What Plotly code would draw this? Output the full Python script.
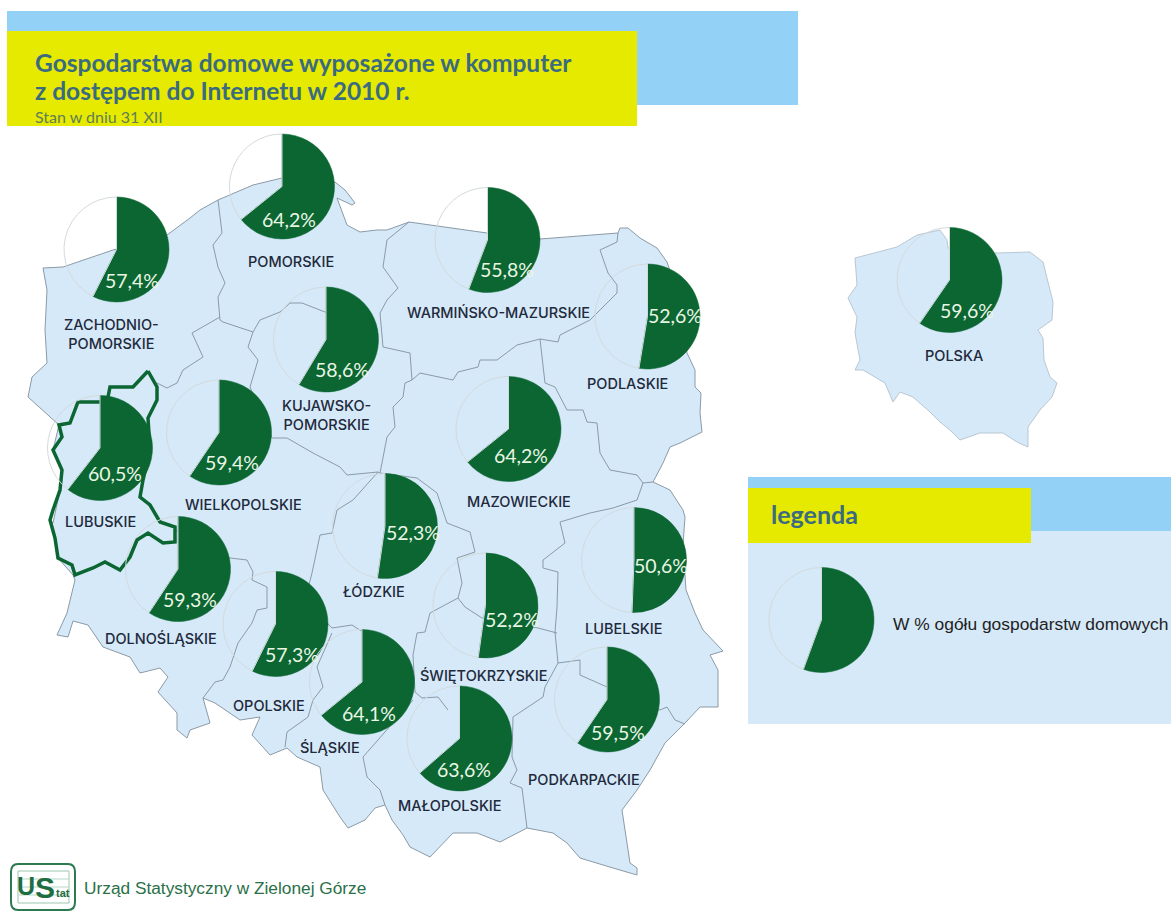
import plotly.graph_objects as go

W, H = 1171, 913

# ---------- data ----------
REGIONS = ["ZACHODNIO-<br>POMORSKIE", "POMORSKIE", "WARMIŃSKO-MAZURSKIE", "PODLASKIE",
           "KUJAWSKO-<br>POMORSKIE", "LUBUSKIE", "WIELKOPOLSKIE", "MAZOWIECKIE",
           "ŁÓDZKIE", "LUBELSKIE", "ŚWIĘTOKRZYSKIE", "DOLNOŚLĄSKIE",
           "OPOLSKIE", "ŚLĄSKIE", "MAŁOPOLSKIE", "PODKARPACKIE", "POLSKA"]
VALUES = [57.4, 64.2, 55.8, 52.6, 58.6, 60.5, 59.4, 64.2, 52.3, 50.6, 52.2, 59.3, 57.3, 64.1, 63.6, 59.5, 59.6]
LEGEND_VALUE = 55.6

# ---------- placement (pixels of the picture, used through hidden axes) ----------
PIE_XY = [(116.5, 249.5), (282, 186.5), (487.5, 240), (647.5, 316.5), (326, 339.5), (100, 448), (219, 432.5),
          (508.5, 429), (385, 526), (634, 560), (485.5, 605.5), (178, 569), (275.5, 624), (362, 682),
          (459.5, 738.5), (607, 699.5), (949.5, 280)]
PIE_R = 52.5
PCT_XY = [(132, 280), (289, 219), (507, 269), (675, 315), (342, 369), (115, 473), (232, 462), (521, 455),
          (413, 532), (661, 565), (512, 619), (190, 599), (292, 654), (369, 713), (464, 769), (618, 732), (967, 310)]
NAME_XY = [(111, 334), (291, 261), (498, 312), (627, 383), (326, 415), (100, 521), (243, 504), (519, 501),
           (374, 591), (623, 628), (484, 675), (161, 638), (269, 705), (330, 747), (450, 805), (584, 779), (954, 355)]

POLAND = [(43,268),(63,267),(113,250),(167,235),(190,218),(200,210),(218,200),(230,195),(253,185),(282,178),(335,182),
          (345,190),(355,203),(352,205),(337,198),(347,225),(360,232),(377,230),(387,230),(409,222),(487,233),(540,239),
          (618,233),(620,228),(628,228),(640,238),(657,248),(667,262),(680,300),(687,353),(695,370),(695,387),(701,393),
          (700,413),(702,432),(680,443),(670,447),(663,463),(653,482),(670,490),(683,510),(685,517),(683,545),(686,590),
          (695,613),(703,630),(715,643),(723,651),(710,655),(718,670),(718,707),(700,707),(685,723),(665,743),(650,770),
          (637,790),(622,810),(630,863),(637,868),(637,875),(613,868),(580,858),(567,843),(553,833),(527,828),(500,842),
          (477,833),(453,833),(430,857),(410,847),(403,835),(392,820),(385,805),(375,808),(365,820),(348,828),(340,817),
          (323,790),(320,767),(297,757),(287,748),(270,755),(252,735),(260,717),(240,720),(215,703),(203,698),(210,723),
          (190,730),(187,738),(177,730),(177,713),(158,692),(168,677),(160,668),(140,673),(130,657),(103,647),(88,625),
          (73,621),(68,637),(57,635),(67,613),(75,580),(73,575),(58,558),(55,538),(50,520),(53,523),(60,490),
          (62,470),(53,450),(59,425),(28,397),(32,377),(47,363),(45,330),(47,290),(43,268)]

LUBUSKIE = [(148,371),(157,387),(157,400),(148,418),(150,450),(143,480),(140,497),(150,505),(160,522),(175,527),(175,542),
            (163,543),(148,533),(137,540),(130,557),(120,570),(105,562),(93,568),(75,575),(72,565),(58,558),(55,538),
            (50,520),(53,510),(60,490),(62,470),(53,450),(62,437),(59,425),(70,423),(78,402),(100,402),(108,397),(110,387),
            (133,387),(143,377),(148,371)]

BORDERS = [
    [(218,200),(222,233),(213,245),(218,267),(225,283),(218,297),(220,320),(223,322),(253,332),(260,320),(280,312),(290,303),(302,303),(325,312),(378,330)],
    [(409,222),(387,240),(383,267),(398,288),(387,300),(380,313),(383,347),(410,353),(412,380),(405,383),(403,397),(393,407),(395,427),(387,437),(380,473)],
    [(253,332),(248,347),(258,360),(250,387),(272,438),(287,438),(313,453),(340,467),(347,475),(378,472),(380,473)],
    [(220,317),(192,333),(203,357),(183,370),(177,383),(167,388),(157,383)],
    [(175,530),(230,558),(247,560),(253,572),(252,580),(267,587),(267,608),(257,610),(252,623),(238,643),(230,667),(223,680),(215,682),(203,698)],
    [(378,472),(353,500),(337,510),(332,533),(320,535),(317,550),(312,573),(305,600),(332,628),(352,625),(363,632)],
    [(380,473),(417,478),(437,493),(447,523),(470,532),(475,552),(457,558),(462,583),(458,598),(430,613),(425,632),(417,633),(413,655),(415,692),(422,698),(438,697),(448,710)],
    [(458,598),(465,607),(482,618),(538,628),(557,633)],
    [(412,380),(420,373),(453,380),(458,372),(478,367),(480,360),(497,360),(517,345),(540,339),(558,342),(560,335),(590,320),(617,293),(617,285),(608,273),(603,258),(600,250),(617,242),(618,233)],
    [(540,339),(545,383),(555,387),(567,410),(583,410),(587,422),(597,423),(600,453),(610,470),(637,475),(643,483),(653,482)],
    [(643,483),(637,500),(613,508),(590,513),(560,522),(565,543),(543,560),(543,568),(558,572),(557,607),(555,632),(558,663),(580,660),(580,675),(607,687),(660,710),(667,707),(675,720),(685,724)],
    [(558,663),(545,687),(543,697),(513,717),(512,757),(517,770),(510,783),(522,788),(527,828)],
    [(332,633),(320,660),(317,667),(323,687),(313,700),(308,717),(287,732),(285,747)],
    [(413,700),(363,757),(367,777),(380,790),(385,805)],
]

POLSKA_MAP = [(855,258),(897,247),(917,235),(940,230),(947,240),(948,248),(997,253),(1030,252),(1043,262),(1048,283),
              (1053,302),(1052,320),(1038,330),(1043,338),(1044,360),(1050,377),(1057,383),(1052,397),(1040,410),(1028,427),
              (1028,447),(1017,442),(1003,433),(980,433),(960,440),(950,430),(940,422),(930,412),(913,397),(900,392),
              (893,402),(885,383),(863,370),(855,370),(860,360),(855,333),(857,317),(848,298),(857,285),(855,258)]

TITLE_LINES = ["Gospodarstwa domowe wyposażone w komputer", "z dostępem do Internetu w 2010 r."]
SUBTITLE = "Stan w dniu 31 XII"
LEGEND_TITLE = "legenda"
LEGEND_TEXT = "W % ogółu gospodarstw domowych"
FOOTER = "Urząd Statystyczny w Zielonej Górze"

GREEN = "#0b6632"
BLUE = "#94d1f6"
PALE = "#d6e9f8"
YELLOW = "#e6e900"
EDGE = "#8b9aa6"
RING = "#d3dadd"
NAVY = "#1f2a3c"
TEAL = "#3a6b80"

fig = go.Figure()


def unzip(points):
    return [p[0] for p in points], [p[1] for p in points]


def add_outline(points, fill, line, width):
    x, y = unzip(points)
    fig.add_trace(go.Scatter(x=x, y=y, mode="lines", fill="toself" if fill else None, fillcolor=fill,
                             line=dict(color=line, width=width), hoverinfo="skip", showlegend=False))


add_outline(POLAND, PALE, EDGE, 1)
bx, by = [], []
for seg in BORDERS:
    sx, sy = unzip(seg)
    bx += sx + [None]
    by += sy + [None]
fig.add_trace(go.Scatter(x=bx, y=by, mode="lines", line=dict(color=EDGE, width=1), hoverinfo="skip", showlegend=False))
add_outline(LUBUSKIE, None, GREEN, 3.5)
add_outline(POLSKA_MAP, PALE, "#b9c7d2", 1)


def add_pie(value, cx, cy, r):
    fig.add_trace(go.Pie(
        values=[value, 100 - value], sort=False, direction="clockwise", rotation=0, textinfo="none",
        hoverinfo="skip", showlegend=False,
        marker=dict(colors=[GREEN, "rgba(0,0,0,0)"], line=dict(color=[GREEN, RING], width=[0.5, 1])),
        domain=dict(x=[(cx - r) / W, (cx + r) / W], y=[1 - (cy + r) / H, 1 - (cy - r) / H])))


for v, (cx, cy) in zip(VALUES, PIE_XY):
    add_pie(v, cx, cy, PIE_R)
add_pie(LEGEND_VALUE, 821.5, 620, PIE_R)

LOGO_GREEN = "#2d7a50"
shapes = [
    dict(type="rect", x0=7, x1=798, y0=11, y1=105, fillcolor=BLUE, line_width=0, layer="below"),
    dict(type="rect", x0=7, x1=637, y0=31, y1=126, fillcolor=YELLOW, line_width=0, layer="below"),
    dict(type="rect", x0=748, x1=1171, y0=477, y1=531, fillcolor=BLUE, line_width=0, layer="below"),
    dict(type="rect", x0=748, x1=1171, y0=531, y1=724, fillcolor=PALE, line_width=0, layer="below"),
    dict(type="rect", x0=748, x1=1031, y0=488, y1=543, fillcolor=YELLOW, line_width=0, layer="below"),
    dict(type="path", path="M18,864 L68,864 Q75,864 75,872 L75,902 Q75,910 68,910 L18,910 Q11,910 11,902 L11,872 Q11,864 18,864 Z",
         fillcolor="white", line=dict(color=LOGO_GREEN, width=2), layer="below"),
    dict(type="rect", x0=18, x1=69, y0=871, y1=903, fillcolor="white", line=dict(color="#9cc7ae", width=1), layer="below"),
]
for gy in (879, 887, 895):
    shapes.append(dict(type="line", x0=18, x1=69, y0=gy, y1=gy, line=dict(color="#b7d7c3", width=1), layer="below"))

annotations = []


def note(text, x, y, size, color, family="Lato", xanchor="center", weight=None):
    font = dict(size=size, color=color, family=family)
    if weight:
        font["weight"] = weight
    annotations.append(dict(x=x, y=y, text=text, showarrow=False, xref="x", yref="y", xanchor=xanchor, yanchor="middle",
                            font=font))


for name, (x, y) in zip(REGIONS, NAME_XY):
    note(name, x, y, 14.5, NAVY, "Inter", weight=500)
for v, (x, y) in zip(VALUES, PCT_XY):
    note(f"{v:.1f}%".replace(".", ","), x, y, 19.5, "#eaf6e4", "Lato")

note("<b>" + TITLE_LINES[0] + "</b>", 33, 62, 24.5, TEAL, "Lato", "left")
note("<b>" + TITLE_LINES[1] + "</b>", 33, 90.5, 24.5, TEAL, "Lato", "left")
note(SUBTITLE, 33, 116, 16, "#5f7f55", "Lato", "left")
note("<b>" + LEGEND_TITLE + "</b>", 769, 514, 25, TEAL, "Lato", "left")
note(LEGEND_TEXT, 891, 624, 17.4, "#222222", "Liberation Sans", "left")
note(FOOTER, 82, 888, 17.3, "#2a7048", "Liberation Sans", "left")
note("<b>U</b>", 26, 886, 25, "#1f6d42", "Liberation Sans")
note("<b>S</b>", 45, 887, 30, "#1f6d42", "Liberation Sans")
note("<b>tat</b>", 63, 893, 11, "#1f6d42", "Liberation Sans")

fig.update_layout(
    width=W, height=H, margin=dict(l=0, r=0, t=0, b=0), paper_bgcolor="white", plot_bgcolor="white",
    xaxis=dict(range=[0, W], visible=False, domain=[0, 1], fixedrange=True),
    yaxis=dict(range=[H, 0], visible=False, domain=[0, 1], fixedrange=True),
    shapes=shapes, annotations=annotations, showlegend=False, hovermode=False,
)

fig.write_html("out.html", config=dict(displayModeBar=False),
               post_script="document.body.style.margin='0';")
